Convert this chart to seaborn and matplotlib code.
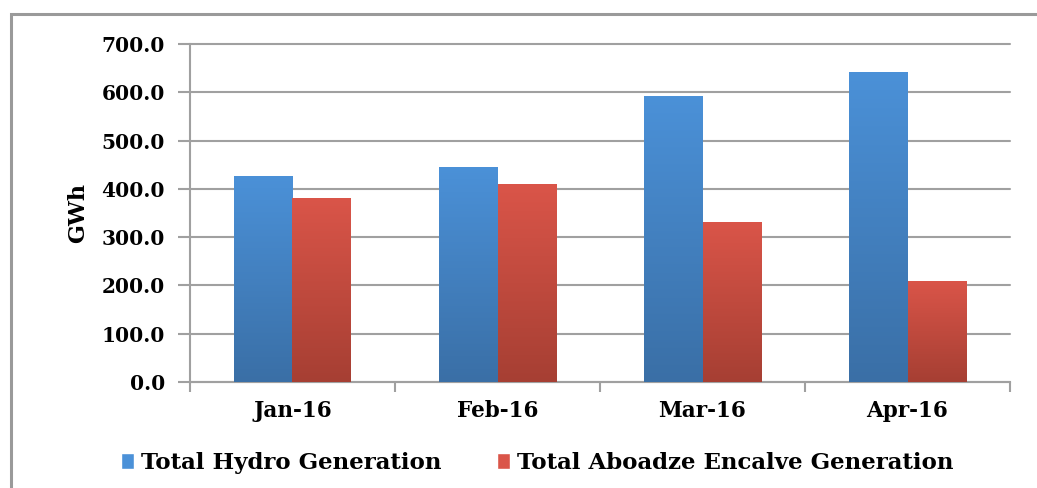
import numpy as np
import pandas as pd
import matplotlib
matplotlib.use("Agg")
import matplotlib.pyplot as plt
from matplotlib.colors import LinearSegmentedColormap
from matplotlib.patches import Rectangle, Patch
import seaborn as sns

months = ["Jan-16", "Feb-16", "Mar-16", "Apr-16"]
hydro = [427.0, 446.0, 592.0, 643.0]
aboadze = [382.0, 410.0, 332.0, 210.0]
series_names = ["Total Hydro Generation", "Total Aboadze Encalve Generation"]
y_ticks = [0, 100, 200, 300, 400, 500, 600, 700]

df = pd.DataFrame({
    "month": months * 2,
    "gwh": hydro + aboadze,
    "series": [series_names[0]] * 4 + [series_names[1]] * 4,
})

sns.set_theme(style="white")
plt.rcParams["font.family"] = ["DejaVu Serif"]
plt.rcParams["font.weight"] = "bold"
plt.rcParams["text.color"] = "black"
plt.rcParams["xtick.color"] = "black"
plt.rcParams["ytick.color"] = "black"
plt.rcParams["axes.labelcolor"] = "black"

blue_top, blue_bot = "#4b91d8", "#3a6fa6"
red_top, red_bot = "#da5549", "#a63f33"

fig = plt.figure(figsize=(10.37, 4.88), dpi=100)
ax = fig.add_axes([0.1832, 0.2172, 0.974 - 0.1832, 0.9098 - 0.2172])

sns.barplot(data=df, x="month", y="gwh", hue="series", order=months,
            hue_order=series_names, palette=[blue_top, red_top],
            width=0.57, gap=0, saturation=1, legend=False, ax=ax,
            linewidth=0, errorbar=None)

# vertical gradient fill, clipped to each bar
grad = np.linspace(0, 1, 256).reshape(-1, 1)
cmaps = [LinearSegmentedColormap.from_list("b", [blue_bot, blue_top]),
         LinearSegmentedColormap.from_list("r", [red_bot, red_top])]
for i, patch in enumerate(ax.patches):
    x0, y0 = patch.get_x(), patch.get_y()
    w, h = patch.get_width(), patch.get_height()
    cm = cmaps[i // len(months)]
    im = ax.imshow(grad, cmap=cm, aspect="auto", origin="lower",
                   extent=(x0, x0 + w, y0, y0 + h), zorder=3)
    im.set_clip_path(patch)
    patch.set_zorder(2.9)
ax.set_xlim(-0.5, 3.5)
ax.set_ylim(0, 700)

grid_c = "#a0a0a0"
ax.set_yticks(y_ticks)
ax.set_yticklabels([f"{v:.1f}" for v in y_ticks], fontsize=14.5, fontweight="bold")
ax.yaxis.grid(True, color=grid_c, linewidth=1.5, zorder=0)
for gl in ax.get_ygridlines():
    gl.set_clip_on(False)
ax.set_axisbelow(True)
ax.tick_params(axis="y", length=9, width=1.5, color=grid_c, labelcolor="black",
               left=True, pad=9)
ax.tick_params(axis="x", which="major", length=0, pad=13, labelcolor="black")
ax.set_xticks([-0.5, 0.5, 1.5, 2.5, 3.5], minor=True)
ax.tick_params(axis="x", which="minor", length=7, width=1.5, color=grid_c, bottom=True)
ax.set_xticklabels(months, fontsize=15.5, fontweight="bold")

for s in ["top", "right"]:
    ax.spines[s].set_visible(False)
for s in ["left", "bottom"]:
    ax.spines[s].set_color(grid_c)
    ax.spines[s].set_linewidth(1.5)

ax.set_xlabel("")
ax.set_ylabel("GWh", fontsize=16, fontweight="bold", labelpad=9, color="black")

handles = [Patch(facecolor=blue_top), Patch(facecolor=red_top)]
fig.legend(handles, series_names, loc="center", bbox_to_anchor=(0.518, 0.052),
           ncol=2, frameon=False, handlelength=0.6, handleheight=0.7,
           handletextpad=0.3, columnspacing=2.4, labelcolor="black",
           prop={"weight": "bold", "size": 16.5, "family": "DejaVu Serif"})

fig.patches.append(Rectangle((11 / 1037, -0.05), 1.1, (488 - 14) / 488 + 0.05,
                             transform=fig.transFigure, fill=False,
                             edgecolor="#9a9a9a", linewidth=2.2))

fig.savefig("out.png", dpi=100)
